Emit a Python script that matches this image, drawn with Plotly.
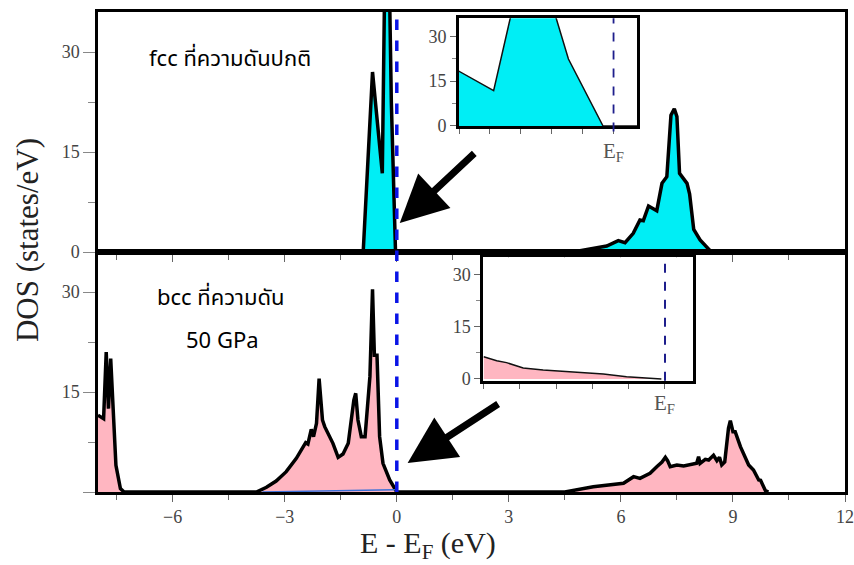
import plotly.graph_objects as go

# ---------------- data ----------------
# fcc, ambient pressure (top panel)
fcc_energy = [-8.0, -0.9, -0.65, -0.388, -0.27, -0.146, -0.034,
              4.72, 5.62, 5.93, 6.11, 6.33, 6.51, 6.60, 6.74, 6.96, 7.10,
              7.23, 7.34, 7.43, 7.50, 7.57, 7.77, 7.84, 7.95, 8.12, 8.37, 8.45, 10.0]
fcc_dos = [0, 0, 27, 11.8, 65, 22.4, 0,
           0, 0.9, 1.7, 1.4, 2.8, 4.8, 4.7, 6.9, 6.2, 10.3,
           11.3, 20.5, 21.5, 20.3, 11.8, 10.3, 8.7, 3.4, 1.8, 0.3, 0, 0]

# bcc, 50 GPa (bottom panel)
bcc_energy = [-8.0, -7.85, -7.78, -7.72, -7.66, -7.60, -7.52, -7.40, -7.30,
              -3.76, -3.49, -3.23, -2.96, -2.69, -2.51, -2.44, -2.38, -2.29, -2.23,
              -2.15, -2.08, -2.04, -1.99, -1.93, -1.71, -1.57, -1.44, -1.30, -1.21,
              -1.15, -1.10, -1.04, -0.95, -0.85, -0.72, -0.65, -0.60, -0.53, -0.46,
              -0.37, -0.19, 0.0,
              4.50, 5.26, 6.07, 6.25, 6.34, 6.51, 6.78, 6.96, 7.10, 7.19,
              7.25, 7.32, 7.50, 7.68, 7.86, 8.03, 8.08, 8.12, 8.26, 8.35,
              8.48, 8.57, 8.64, 8.70, 8.78, 8.88, 8.93, 9.00, 9.06, 9.20,
              9.42, 9.55, 9.69, 9.74, 9.87, 9.95]
bcc_dos = [11.5, 11.0, 21.0, 12.5, 20.0, 13.0, 4.0, 0.5, 0,
           0, 0.7, 1.65, 3.05, 5.05, 6.8, 7.4, 7.2, 9.4, 8.3,
           10.3, 17.0, 13.8, 10.8, 9.8, 7.3, 5.2, 5.7, 7.3, 11.5,
           13.8, 14.8, 10.8, 8.3, 8.3, 17.3, 30.4, 20.5, 20.5, 8.3,
           4.3, 1.8, 0,
           0, 0.8, 1.3, 2.05, 2.3, 2.05, 2.8, 3.8, 4.5, 5.2,
           4.7, 3.8, 4.05, 3.9, 4.1, 4.3, 5.3, 4.3, 4.9, 4.8,
           5.5, 4.7, 5.2, 4.05, 4.5, 9.55, 10.7, 9.05, 9.05, 6.8,
           4.05, 3.3, 1.8, 1.75, 0.2, 0]

# thin second curve near zero (bottom panel)
bcc_minor_energy = [-3.6, -0.05]
bcc_minor_dos = [0.0, 0.35]

# inset of bcc near the Fermi level
bcc_inset_energy = [-0.5, -0.464, -0.437, -0.391, -0.336, -0.262, -0.170, -0.106, -0.05, -0.01]
bcc_inset_dos = [6.4, 5.26, 4.7, 3.15, 2.6, 2.0, 1.43, 0.66, 0.2, 0.0]

x_major_ticks = [-6, -3, 0, 3, 6, 9, 12]
y_ticks = [0, 15, 30]
inset_x_ticks = [-0.5, -0.4, -0.3, -0.2, -0.1, 0.0]

fcc_label = "fcc ที่ความดันปกติ"
bcc_label = "bcc ที่ความดัน"
bcc_label2 = "50 GPa"

CYAN = "#00eef5"
PINK = "#ffb6c1"
SERIF = "Liberation Serif, Times New Roman, serif"
THAI = "Tahoma, Noto Sans Thai, Loma, Garuda, Noto Sans, sans-serif"

fig = go.Figure()

# main curves
fig.add_trace(go.Scatter(x=fcc_energy, y=fcc_dos, mode="lines", fill="tozeroy",
                         fillcolor=CYAN, line=dict(color="black", width=3.5),
                         xaxis="x", yaxis="y", showlegend=False))
fig.add_trace(go.Scatter(x=bcc_energy, y=bcc_dos, mode="lines", fill="tozeroy",
                         fillcolor=PINK, line=dict(color="black", width=3.5),
                         xaxis="x2", yaxis="y2", showlegend=False))
fig.add_trace(go.Scatter(x=bcc_minor_energy, y=bcc_minor_dos, mode="lines",
                         line=dict(color="#3a6fd8", width=1.5),
                         xaxis="x2", yaxis="y2", showlegend=False))
# insets
fig.add_trace(go.Scatter(x=fcc_energy, y=fcc_dos, mode="lines", fill="tozeroy",
                         fillcolor=CYAN, line=dict(color="#111", width=1.5),
                         xaxis="x3", yaxis="y3", showlegend=False))
fig.add_trace(go.Scatter(x=bcc_inset_energy, y=bcc_inset_dos, mode="lines", fill="tozeroy",
                         fillcolor=PINK, line=dict(color="#111", width=1.5),
                         xaxis="x4", yaxis="y4", showlegend=False))

tickfont = dict(family=SERIF, size=18, color="#444")

main_x = dict(range=[-8, 12], showline=True, linecolor="black", linewidth=2.5, mirror=True,
              ticks="outside", tickvals=x_major_ticks, ticklen=7, tickcolor="#666",
              minor=dict(dtick=1.5, tick0=0, ticks="outside", ticklen=5, tickcolor="#666"),
              showgrid=False, zeroline=False, tickfont=tickfont, automargin=False)
main_y = dict(range=[0, 36], showline=True, linecolor="black", linewidth=2.5, mirror=True,
              ticks="outside", tickvals=y_ticks, ticklen=12, tickcolor="#888",
              minor=dict(dtick=7.5, tick0=0, ticks="outside", ticklen=7, tickcolor="#888"),
              showgrid=False, zeroline=False, tickfont=tickfont, automargin=False)

inset_x = dict(showline=True, linecolor="black", linewidth=3, mirror=True,
               ticks="outside", tickvals=inset_x_ticks, ticklen=5, tickcolor="#666",
               showticklabels=False, showgrid=False, zeroline=False, automargin=False)
inset_y = dict(showline=True, linecolor="black", linewidth=3, mirror=True,
               ticks="outside", tickvals=y_ticks, ticklen=6, tickcolor="#666",
               minor=dict(dtick=7.5, tick0=0, ticks="outside", ticklen=4, tickcolor="#888"),
               showgrid=False, zeroline=False, tickfont=tickfont, automargin=False)

fig.update_layout(
    width=854, height=565, autosize=False,
    margin=dict(l=98, r=9, t=12, b=73, autoexpand=False),
    paper_bgcolor="white", plot_bgcolor="white",
    xaxis=dict(main_x, domain=[0, 1], anchor="y", showticklabels=False),
    yaxis=dict(main_y, domain=[0.5, 1], anchor="x"),
    xaxis2=dict(main_x, domain=[0, 1], anchor="y2"),
    yaxis2=dict(main_y, domain=[0, 0.5], anchor="x2", ticktext=["", "15", "30"]),
    xaxis3=dict(inset_x, domain=[0.4833, 0.7216], anchor="y3", range=[-0.5, 0.076]),
    yaxis3=dict(inset_y, domain=[0.7625, 0.9869], anchor="x3", range=[0, 36]),
    xaxis4=dict(inset_x, domain=[0.5158, 0.7969], anchor="y4", range=[-0.501, 0.078]),
    yaxis4=dict(inset_y, domain=[0.2319, 0.489], anchor="x4", range=[-0.5, 35]),
)

# Fermi level lines
fig.add_shape(type="line", xref="x", yref="paper", x0=0, x1=0, y0=0, y1=1,
              line=dict(color="#0a14e6", width=3.5, dash="dash"))
fig.add_shape(type="line", xref="x3", yref="y3 domain", x0=0, x1=0, y0=-0.05, y1=1,
              line=dict(color="#1e1e8c", width=1.8, dash="dash"))
fig.add_shape(type="line", xref="x4", yref="y4 domain", x0=0, x1=0, y0=0, y1=0.98,
              line=dict(color="#1e1e8c", width=2, dash="dash"))

ann = []
# axis titles
ann.append(dict(text="DOS (states/eV)", xref="paper", yref="paper", x=-0.095, y=0.525,
                textangle=-90, showarrow=False, xanchor="center", yanchor="middle",
                font=dict(family=SERIF, size=31, color="#222")))
ann.append(dict(text="E - E<sub>F</sub> (eV)", xref="paper", yref="paper", x=0.4418, y=-0.11,
                showarrow=False, xanchor="center", yanchor="middle",
                font=dict(family=SERIF, size=30, color="#222")))
# E_F labels for insets
ann.append(dict(text="E<sub>F</sub>", xref="x3", yref="paper", x=0.0, y=(492 - 152) / 480,
                showarrow=False, xanchor="center", yanchor="middle",
                font=dict(family=SERIF, size=21, color="#555")))
ann.append(dict(text="E<sub>F</sub>", xref="x4", yref="paper", x=0.0, y=(492 - 404) / 480,
                showarrow=False, xanchor="center", yanchor="middle",
                font=dict(family=SERIF, size=21, color="#555")))
# panel labels
label_font = dict(family=THAI, size=22, color="black")
ann.append(dict(text=fcc_label, xref="paper", yref="paper", x=(230 - 98) / 747, y=(492 - 60) / 480,
                showarrow=False, xanchor="center", yanchor="middle", font=label_font))
ann.append(dict(text=bcc_label, xref="paper", yref="paper", x=(221 - 98) / 747, y=(492 - 298) / 480,
                showarrow=False, xanchor="center", yanchor="middle", font=label_font))
ann.append(dict(text=bcc_label2, xref="paper", yref="paper", x=(222 - 98) / 747, y=(492 - 341) / 480,
                showarrow=False, xanchor="center", yanchor="middle", font=label_font))
# arrows
ann.append(dict(text="", x=0.08, y=4.35, xref="x", yref="y", ax=76, ay=-71,
                showarrow=True, arrowhead=2, arrowsize=1.35, arrowwidth=7, arrowcolor="black",
                standoff=0))
ann.append(dict(text="", x=0.29, y=4.35, xref="x2", yref="y2", ax=92, ay=-60,
                showarrow=True, arrowhead=2, arrowsize=1.35, arrowwidth=7, arrowcolor="black",
                standoff=0))
fig.update_layout(annotations=ann)

fig.write_html("out.html", config={"displayModeBar": False},
               post_script="document.body.style.margin='0px';document.body.style.padding='0px';")
